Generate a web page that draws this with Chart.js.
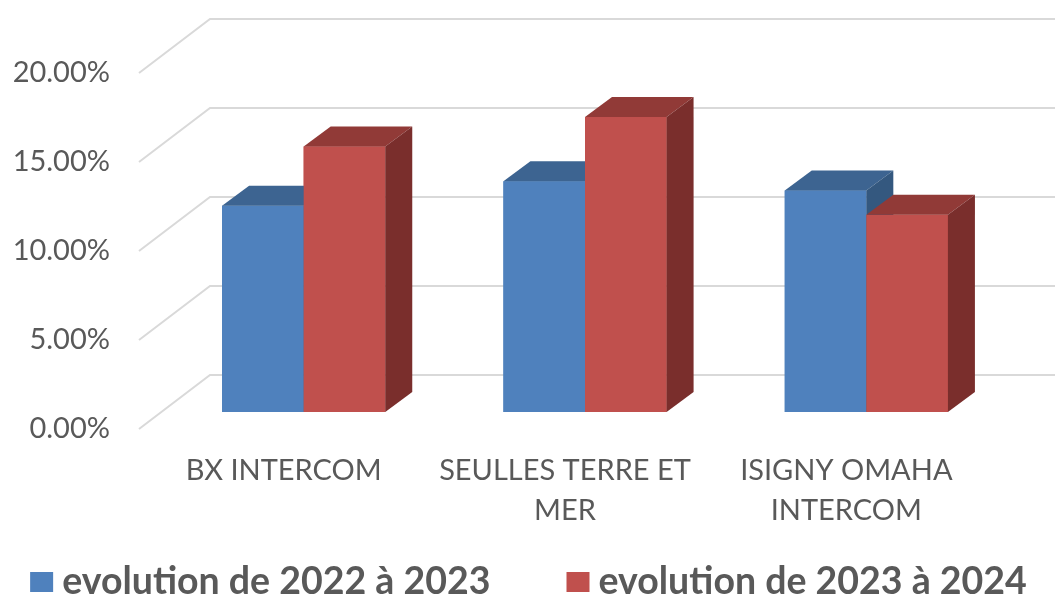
<!DOCTYPE html>
<html>
<head>
<meta charset="utf-8">
<script src="https://cdn.jsdelivr.net/npm/chart.js@4"></script>
<style>
  body { margin: 0; background: #ffffff; }
  canvas { display: block; }
</style>
</head>
<body>
<canvas id="chart" width="1055" height="598"></canvas>
<script>
// categories and series (values as fractions, axis shows percent)
const categories = ["BX INTERCOM", ["SEULLES TERRE ET", "MER"], ["ISIGNY OMAHA", "INTERCOM"]];
const evol2022_2023 = [0.1159, 0.1296, 0.1245];
const evol2023_2024 = [0.1492, 0.1657, 0.1108];
const seriesLabels = ["evolution de 2022 à 2023", "evolution de 2023 à 2024"];
const yTicks = [0, 0.05, 0.10, 0.15, 0.20];

const FONT = "Lato, 'Liberation Sans', sans-serif";
const TEXT_COLOR = "#595959";
const GRID_COLOR = "#d9d9d9";

// face colours: front, top, side
const faces = [
    { front: "#4f81bd", top: "#3d6491", side: "#34587f" },
    { front: "#c0504d", top: "#913a37", side: "#7a2e2c" }
];

// 3D offsets (bar depth, and front/back planes of the wall)
const DEPTH = { dx: 27, dy: -20 };
const FRONT = { dx: -24, dy: 17 };
const BACK = { dx: 47, dy: -37 };

const threeD = {
    id: "threeD",
    beforeDatasetsDraw(chart) {
        const { ctx, chartArea } = chart;
        const y = chart.scales.y;
        ctx.save();
        ctx.strokeStyle = GRID_COLOR;
        ctx.lineWidth = 2;
        y.ticks.forEach(t => {
            const py = y.getPixelForValue(t.value);
            ctx.beginPath();
            ctx.moveTo(chartArea.left + FRONT.dx, py + FRONT.dy);
            ctx.lineTo(chartArea.left + BACK.dx, py + BACK.dy);
            ctx.lineTo(chart.width, py + BACK.dy);
            ctx.stroke();
        });
        ctx.restore();
    },
    afterDatasetsDraw(chart) {
        const ctx = chart.ctx;
        const metas = chart.data.datasets.map((ds, i) => chart.getDatasetMeta(i));
        ctx.save();
        // draw category by category, series left to right, so overlaps stack right
        for (let j = 0; j < categories.length; j++) {
            metas.forEach((meta, i) => {
                const bar = meta.data[j];
                const { x, y, base, width } = bar.getProps(["x", "y", "base", "width"], true);
                const l = x - width / 2;
                const r = x + width / 2;
                const c = faces[i];
                // front
                ctx.fillStyle = c.front;
                ctx.fillRect(l, y, width, base - y);
                // top
                ctx.fillStyle = c.top;
                ctx.beginPath();
                ctx.moveTo(l, y);
                ctx.lineTo(r, y);
                ctx.lineTo(r + DEPTH.dx, y + DEPTH.dy);
                ctx.lineTo(l + DEPTH.dx, y + DEPTH.dy);
                ctx.closePath();
                ctx.fill();
                // side
                ctx.fillStyle = c.side;
                ctx.beginPath();
                ctx.moveTo(r, y);
                ctx.lineTo(r + DEPTH.dx, y + DEPTH.dy);
                ctx.lineTo(r + DEPTH.dx, base + DEPTH.dy);
                ctx.lineTo(r, base);
                ctx.closePath();
                ctx.fill();
            });
        }
        ctx.restore();
    },
    afterDraw(chart) {
        // legend
        const ctx = chart.ctx;
        const boxW = 23, boxH = 20, gapText = 9, gapItem = 76;
        const cy = 582;
        ctx.save();
        ctx.font = "bold 37.5px " + FONT;
        ctx.textBaseline = "middle";
        const items = chart.data.datasets.map((ds, i) => ({
            text: ds.label,
            color: faces[i].front,
            w: ctx.measureText(ds.label).width
        }));
        const total = items.reduce((s, it) => s + boxW + gapText + it.w, 0) + gapItem * (items.length - 1);
        let x = (chart.width - total) / 2 + 1;
        items.forEach(it => {
            ctx.fillStyle = it.color;
            ctx.fillRect(x, cy - boxH / 2, boxW, boxH);
            ctx.fillStyle = TEXT_COLOR;
            ctx.fillText(it.text, x + boxW + gapText, cy);
            x += boxW + gapText + it.w + gapItem;
        });
        ctx.restore();
    }
};

new Chart(document.getElementById("chart"), {
    type: "bar",
    data: {
        labels: categories,
        datasets: [
            { label: seriesLabels[0], data: evol2022_2023, backgroundColor: faces[0].front },
            { label: seriesLabels[1], data: evol2023_2024, backgroundColor: faces[1].front }
        ]
    },
    options: {
        responsive: false,
        animation: false,
        devicePixelRatio: 1,
        layout: { padding: { top: 56, right: 48, left: 0, bottom: 0 } },
        plugins: {
            legend: { display: false },
            tooltip: { enabled: false }
        },
        datasets: {
            bar: { categoryPercentage: 0.58, barPercentage: 1, borderWidth: 0 }
        },
        scales: {
            x: {
                grid: { display: false, drawTicks: false },
                border: { display: false },
                ticks: {
                    color: TEXT_COLOR,
                    font: { family: FONT, size: 29, lineHeight: 1.38 },
                    padding: 39,
                    labelOffset: -20,
                    maxRotation: 0,
                    autoSkip: false
                },
                afterFit(scale) {
                    scale.height = 186;
                    scale.paddingLeft = 0;
                    scale.paddingRight = 0;
                }
            },
            y: {
                min: 0,
                max: 0.2,
                afterBuildTicks(scale) { scale.ticks = yTicks.map(v => ({ value: v })); },
                grid: { display: false, drawTicks: false },
                border: { display: false },
                ticks: {
                    color: TEXT_COLOR,
                    font: { family: FONT, size: 29 },
                    padding: 53,
                    labelOffset: 17,
                    callback: v => (v * 100).toFixed(2) + "%"
                },
                afterFit(scale) {
                    scale.width = 163;
                    scale.paddingTop = 0;
                    scale.paddingBottom = 0;
                }
            }
        }
    },
    plugins: [threeD]
});
</script>
</body>
</html>
